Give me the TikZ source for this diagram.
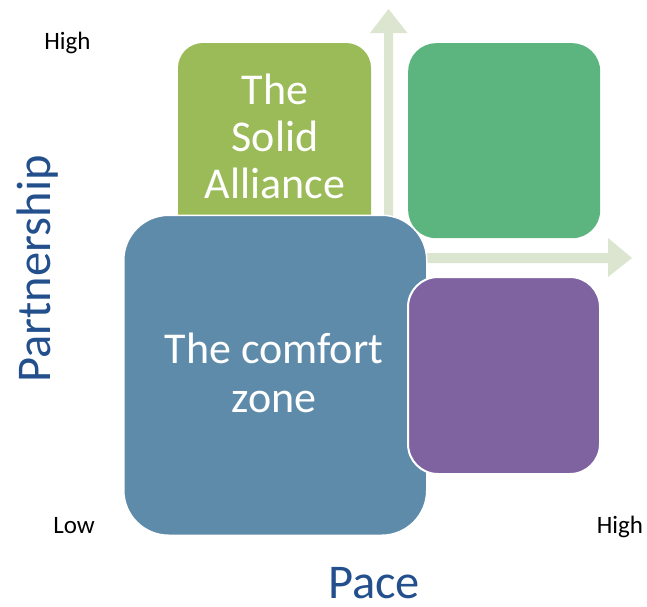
\documentclass[tikz,border=0pt]{standalone}
\usepackage{fontspec}
\setmainfont{Carlito}
\definecolor{olive}{HTML}{9BBB59}
\definecolor{dgreen}{HTML}{5CB47F}
\definecolor{sblue}{HTML}{5F8BAA}
\definecolor{spurple}{HTML}{7F63A1}
\definecolor{arrowc}{HTML}{DCE5CF}
\definecolor{axisc}{HTML}{23508C}
\begin{document}
\begin{tikzpicture}[x=1pt,y=-1pt,
  box/.style={rectangle,inner sep=0pt,anchor=north west},
  boxtext/.style={text=white,align=center,inner sep=0pt},
  ticklabel/.style={font=\fontsize{25}{30}\selectfont,anchor=base,inner sep=0pt},
  axislabel/.style={text=axisc,font=\fontsize{48.5}{56}\selectfont,anchor=base,inner sep=0pt}]
\useasboundingbox (0,0) rectangle (647,606);
% olive box
\fill[olive,rounded corners=25pt] (178,43) rectangle (371,240);
\node[boxtext,font=\fontsize{44}{47}\selectfont] (solid) at (275,136) {The\\Solid\\Alliance};
% dark green box
\node[box,fill=dgreen,rounded corners=28pt,minimum width=192pt,minimum height=195pt] (hh) at (408,43) {};
% arrows
\coordinate (vbot) at (388.5,230);
\coordinate (vtip) at (388.5,9);
\fill[arrowc] (384,230) -- (384,33) -- (370,33) -- (vtip) -- (407.5,33) -- (393,33) -- (393,230) -- cycle;
\coordinate (hstart) at (415,258);
\coordinate (htip) at (632,258);
\fill[arrowc] (415,253) -- (608,253) -- (608,238) -- (htip) -- (608,277) -- (608,263) -- (415,263) -- cycle;
% blue box
\node[box,fill=sblue,draw=white,line width=1.5pt,rounded corners=45pt,minimum width=303pt,minimum height=320pt] (ll) at (123,214.5) {};
\node[boxtext,font=\fontsize{44}{49}\selectfont] (comfort) at (274,373) {The comfort\\zone};
% purple box
\node[box,fill=spurple,draw=white,line width=2pt,rounded corners=30pt,minimum width=192pt,minimum height=197pt] (lh) at (407,276) {};
% labels
\node[ticklabel] (hightop) at (67.5,49) {High};
\node[ticklabel] (low) at (74,533) {Low};
\node[ticklabel] (highright) at (620,533) {High};
\node[axislabel] (pace) at (374,598) {Pace};
\node[axislabel,rotate=90] (partner) at (50,269) {Partnership};
\end{tikzpicture}
\end{document}
